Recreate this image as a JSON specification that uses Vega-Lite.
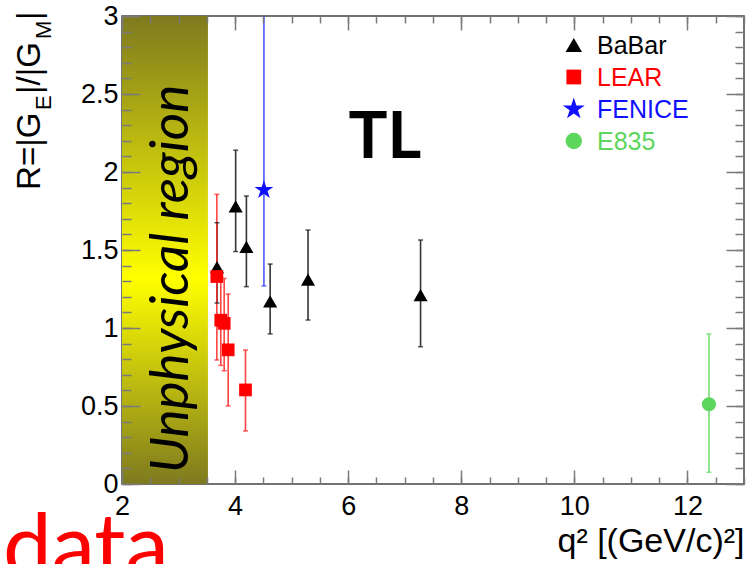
{
  "$schema": "https://vega.github.io/schema/vega-lite/v6.json",
  "width": 622,
  "height": 468,
  "autosize": {"type": "none"},
  "padding": {"left": 122, "top": 16, "right": 11, "bottom": 80},
  "background": "white",
  "config": {
    "view": {"stroke": "#444444", "strokeWidth": 1.5},
    "axis": {
      "grid": false, "domain": false,
      "labelFont": "Liberation Sans", "titleFont": "Liberation Sans",
      "labelColor": "#000000", "titleColor": "#000000",
      "tickColor": "#7a7a7a", "tickWidth": 1.5, "labelFontSize": 27
    }
  },
  "datasets": {
    "pts": [
      {"exp": "BaBar", "q2": 3.68, "R": 1.39, "lo": 1.16, "hi": 1.675},
      {"exp": "BaBar", "q2": 4.01, "R": 1.78, "lo": 1.49, "hi": 2.14},
      {"exp": "BaBar", "q2": 4.2, "R": 1.52, "lo": 1.265, "hi": 1.846},
      {"exp": "BaBar", "q2": 4.62, "R": 1.17, "lo": 0.962, "hi": 1.41},
      {"exp": "BaBar", "q2": 5.29, "R": 1.31, "lo": 1.051, "hi": 1.628},
      {"exp": "BaBar", "q2": 7.28, "R": 1.21, "lo": 0.88, "hi": 1.564},
      {"exp": "LEAR", "q2": 3.677, "R": 1.33, "lo": 0.795, "hi": 1.857},
      {"exp": "LEAR", "q2": 3.747, "R": 1.05, "lo": 0.76, "hi": 1.33},
      {"exp": "LEAR", "q2": 3.807, "R": 1.03, "lo": 0.726, "hi": 1.318},
      {"exp": "LEAR", "q2": 3.878, "R": 0.86, "lo": 0.5, "hi": 1.218},
      {"exp": "LEAR", "q2": 4.184, "R": 0.603, "lo": 0.34, "hi": 0.859},
      {"exp": "FENICE", "q2": 4.51, "R": 1.885, "lo": 1.27, "hi": 3.3},
      {"exp": "E835", "q2": 12.38, "R": 0.511, "lo": 0.075, "hi": 0.962}
    ],
    "legendEntries": [
      {"exp": "BaBar"}, {"exp": "LEAR"}, {"exp": "FENICE"}, {"exp": "E835"}
    ]
  },
  "resolve": {"scale": {"y": "independent"}, "axis": {"x": "independent", "y": "independent"}},
  "layer": [
    {
      "resolve": {"axis": {"x": "independent", "y": "independent"}},
      "layer": [
        {
          "data": {"values": [{"q_lo": 2, "q_hi": 3.52, "r_lo": 0, "r_hi": 3}]},
          "mark": {
            "type": "rect",
            "fill": {
              "gradient": "linear", "x1": 0, "y1": 0, "x2": 0, "y2": 1,
              "stops": [
                {"offset": 0, "color": "#7e7a1f"},
                {"offset": 0.56, "color": "#ffff00"},
                {"offset": 1, "color": "#7e7a1f"}
              ]
            }
          },
          "encoding": {
            "x": {
              "field": "q_lo", "type": "quantitative",
              "scale": {"domain": [2, 13], "nice": false, "zero": false},
              "axis": {
                "orient": "bottom", "ticks": false, "values": [2, 4, 6, 8, 10, 12],
                "labelPadding": 9, "labelFlush": false, "labelOverlap": false,
                "title": "q² [(GeV/c)²]", "titleFontSize": 34, "titleFontWeight": "normal",
                "titleAnchor": "end", "titlePadding": 5
              }
            },
            "x2": {"field": "q_hi"},
            "y": {
              "field": "r_lo", "type": "quantitative",
              "scale": {"domain": [0, 3], "nice": false, "zero": false},
              "axis": {
                "orient": "left", "ticks": false, "values": [0, 0.5, 1, 1.5, 2, 2.5, 3],
                "format": ".1~f", "labelPadding": 4, "labelFlush": false, "labelOverlap": false,
                "title": null
              }
            },
            "y2": {"field": "r_hi"}
          }
        },
        {
          "data": {"name": "pts"},
          "mark": {"type": "rule", "strokeWidth": 1.6, "opacity": 0.85, "clip": true},
          "encoding": {
            "x": {
              "field": "q2", "type": "quantitative",
              "axis": {"orient": "bottom", "labels": false, "values": [2, 4, 6, 8, 10, 12], "tickSize": -14, "title": null, "zindex": 1}
            },
            "y": {
              "field": "lo", "type": "quantitative",
              "axis": {"orient": "left", "labels": false, "values": [0, 0.5, 1, 1.5, 2, 2.5, 3], "tickSize": -18, "title": null, "zindex": 1}
            },
            "y2": {"field": "hi"},
            "stroke": {
              "field": "exp", "type": "nominal",
              "scale": {"domain": ["E835", "FENICE", "LEAR", "BaBar"], "range": ["#5fd85f", "#2a3cff", "#ff2222", "#111111"]},
              "legend": null
            }
          }
        },
        {
          "data": {"name": "pts"},
          "mark": {"type": "tick", "orient": "horizontal", "size": 5, "thickness": 1.5, "clip": true},
          "encoding": {
            "x": {
              "field": "q2", "type": "quantitative",
              "axis": {"orient": "top", "labels": false, "values": [2, 4, 6, 8, 10, 12], "tickSize": -14, "title": null, "zindex": 1}
            },
            "y": {
              "field": "lo", "type": "quantitative",
              "axis": {"orient": "right", "labels": false, "values": [0, 0.5, 1, 1.5, 2, 2.5, 3], "tickSize": -18, "title": null, "zindex": 1}
            },
            "fill": {
              "field": "exp", "type": "nominal",
              "scale": {"domain": ["E835", "FENICE", "LEAR", "BaBar"], "range": ["#5fd85f", "#2a3cff", "#ff2222", "#111111"]},
              "legend": null
            }
          }
        },
        {
          "data": {"name": "pts"},
          "mark": {"type": "tick", "orient": "horizontal", "size": 5, "thickness": 1.5, "clip": true},
          "encoding": {
            "x": {
              "field": "q2", "type": "quantitative",
              "axis": {"orient": "top", "labels": false, "values": [2, 2.5, 3, 3.5, 4, 4.5, 5, 5.5, 6, 6.5, 7, 7.5, 8, 8.5, 9, 9.5, 10, 10.5, 11, 11.5, 12, 12.5, 13], "tickSize": -7, "title": null, "zindex": 1}
            },
            "y": {
              "field": "hi", "type": "quantitative",
              "axis": {"orient": "right", "labels": false, "values": [0, 0.1, 0.2, 0.3, 0.4, 0.5, 0.6, 0.7, 0.8, 0.9, 1, 1.1, 1.2, 1.3, 1.4, 1.5, 1.6, 1.7, 1.8, 1.9, 2, 2.1, 2.2, 2.3, 2.4, 2.5, 2.6, 2.7, 2.8, 2.9, 3], "tickSize": -9, "title": null, "zindex": 1}
            },
            "fill": {
              "field": "exp", "type": "nominal",
              "scale": {"domain": ["E835", "FENICE", "LEAR", "BaBar"], "range": ["#5fd85f", "#2a3cff", "#ff2222", "#111111"]},
              "legend": null
            }
          }
        },
        {
          "data": {"name": "pts"},
          "mark": {"type": "point", "filled": true, "opacity": 1, "strokeWidth": 0, "size": 200},
          "encoding": {
            "x": {
              "field": "q2", "type": "quantitative",
              "axis": {"orient": "bottom", "labels": false, "values": [2, 2.5, 3, 3.5, 4, 4.5, 5, 5.5, 6, 6.5, 7, 7.5, 8, 8.5, 9, 9.5, 10, 10.5, 11, 11.5, 12, 12.5, 13], "tickSize": -7, "title": null, "zindex": 1}
            },
            "y": {
              "field": "R", "type": "quantitative",
              "axis": {"orient": "left", "labels": false, "values": [0, 0.1, 0.2, 0.3, 0.4, 0.5, 0.6, 0.7, 0.8, 0.9, 1, 1.1, 1.2, 1.3, 1.4, 1.5, 1.6, 1.7, 1.8, 1.9, 2, 2.1, 2.2, 2.3, 2.4, 2.5, 2.6, 2.7, 2.8, 2.9, 3], "tickSize": -9, "title": null, "zindex": 1}
            },
            "color": {
              "field": "exp", "type": "nominal",
              "scale": {"domain": ["BaBar", "LEAR", "FENICE", "E835"], "range": ["#000000", "#ff0000", "#1010ff", "#5cd65c"]},
              "legend": null
            },
            "shape": {
              "field": "exp", "type": "nominal",
              "scale": {
                "domain": ["BaBar", "LEAR", "FENICE", "E835"],
                "range": ["triangle-up", "M-0.9,-0.9H0.9V0.9H-0.9Z", "M0,-1.4L0.3143,-0.4326L1.3314,-0.4326L0.5082,0.1652L0.8232,1.1326L0,0.5348L-0.8232,1.1326L-0.5082,0.1652L-1.3314,-0.4326L-0.3143,-0.4326Z", "circle"]
              },
              "legend": null
            }
          }
        },
        {
          "data": {"values": [{"x": 6.65, "y": 2.088, "t": "TL"}]},
          "mark": {"type": "text", "font": "Lato", "fontWeight": "bold", "fontSize": 65, "align": "center", "baseline": "alphabetic", "color": "#000000"},
          "encoding": {
            "x": {"field": "x", "type": "quantitative", "axis": null},
            "y": {"field": "y", "type": "quantitative", "axis": null},
            "text": {"field": "t"}
          }
        },
        {
          "data": {"values": [{"x": 3.167, "y": 0.07, "t": "Unphysical region"}]},
          "mark": {"type": "text", "font": "Lato", "fontStyle": "italic", "fontSize": 53, "angle": 270, "align": "left", "baseline": "alphabetic", "color": "#000000"},
          "encoding": {
            "x": {"field": "x", "type": "quantitative", "axis": null},
            "y": {"field": "y", "type": "quantitative", "axis": null},
            "text": {"field": "t"}
          }
        },
        {
          "data": {"values": [
            {"x": 0.55, "y": 1.885, "t": "R=|G"},
            {"x": 0.55, "y": 2.5, "t": "|/|G"},
            {"x": 0.55, "y": 2.974, "t": "|"}
          ]},
          "mark": {"type": "text", "font": "Liberation Sans", "fontSize": 33, "angle": 270, "align": "left", "baseline": "alphabetic", "color": "#000000"},
          "encoding": {
            "x": {"field": "x", "type": "quantitative", "axis": null},
            "y": {"field": "y", "type": "quantitative", "axis": null},
            "text": {"field": "t"}
          }
        },
        {
          "data": {"values": [
            {"x": 0.745, "y": 2.397, "t": "E"},
            {"x": 0.745, "y": 2.853, "t": "M"}
          ]},
          "mark": {"type": "text", "font": "Liberation Sans", "fontSize": 22, "angle": 270, "align": "left", "baseline": "alphabetic", "color": "#000000"},
          "encoding": {
            "x": {"field": "x", "type": "quantitative", "axis": null},
            "y": {"field": "y", "type": "quantitative", "axis": null},
            "text": {"field": "t"}
          }
        },
        {
          "data": {"values": [{"x": -0.105, "y": -0.59, "t": "data"}]},
          "mark": {"type": "text", "font": "Lato", "fontSize": 87, "align": "left", "baseline": "alphabetic", "color": "#ff0000"},
          "encoding": {
            "x": {"field": "x", "type": "quantitative", "axis": null},
            "y": {"field": "y", "type": "quantitative", "axis": null},
            "text": {"field": "t"}
          }
        }
      ]
    },
    {
      "data": {"name": "legendEntries"},
      "layer": [
        {
          "mark": {"type": "point", "filled": true, "opacity": 1, "strokeWidth": 0, "size": 270},
          "encoding": {
            "x": {"datum": 9.99, "type": "quantitative", "axis": null},
            "y": {"field": "exp", "type": "nominal", "scale": {"type": "point", "padding": 0, "domain": ["BaBar", "LEAR", "FENICE", "E835"], "range": [29, 125]}, "axis": null},
            "color": {"field": "exp", "type": "nominal", "legend": null},
            "shape": {"field": "exp", "type": "nominal", "legend": null}
          }
        },
        {
          "mark": {"type": "text", "font": "Liberation Sans", "fontSize": 25, "align": "left", "baseline": "middle", "dy": 1},
          "encoding": {
            "x": {"datum": 10.4, "type": "quantitative", "axis": null},
            "y": {"field": "exp", "type": "nominal", "scale": {"type": "point", "padding": 0, "domain": ["BaBar", "LEAR", "FENICE", "E835"], "range": [29, 125]}, "axis": null},
            "color": {"field": "exp", "type": "nominal", "legend": null},
            "text": {"field": "exp"}
          }
        }
      ]
    }
  ]
}
